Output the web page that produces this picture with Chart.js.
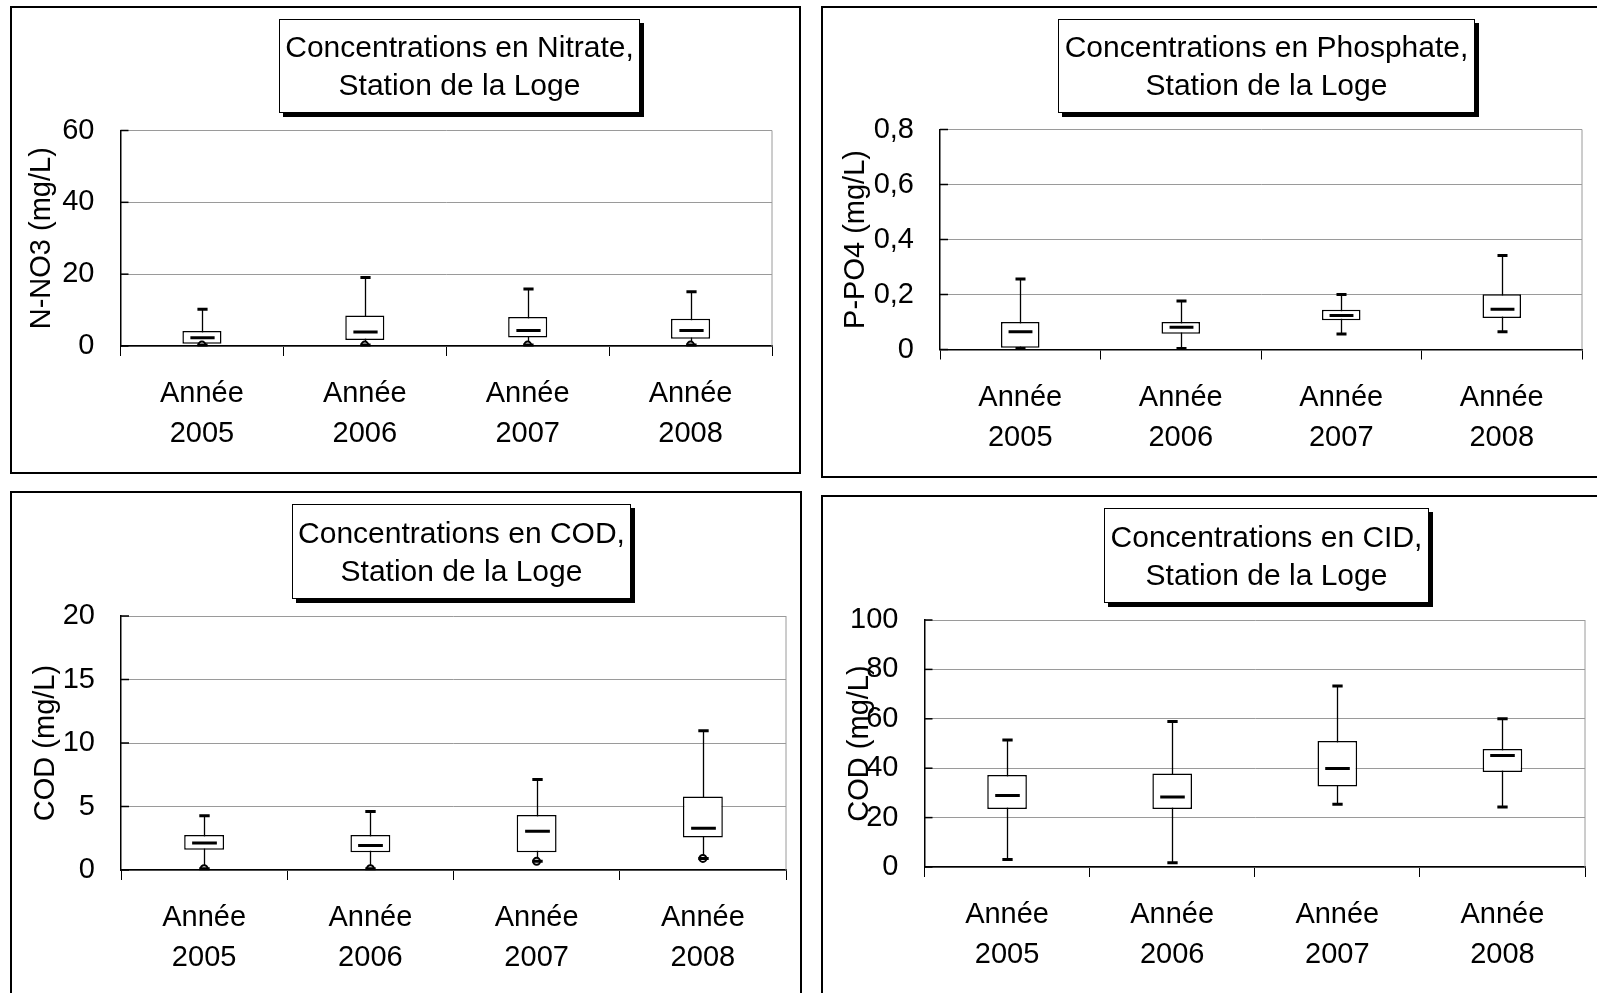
<!DOCTYPE html>
<html>
<head>
<meta charset="utf-8">
<script src="https://cdn.jsdelivr.net/npm/chart.js@4.4.0/dist/chart.umd.min.js"></script>
<style>
body { margin: 0; background: #fff; width: 1597px; height: 993px; overflow: hidden; position: relative; font-family: "Liberation Sans", Arial, sans-serif; }
.panel { position: absolute; border: 2px solid #000; box-sizing: border-box; background: #fff; }
.panel canvas { position: absolute; left: 0; top: 0; }
.ttl { position: absolute; border: 1px solid #000; background: #fff; box-shadow: 4px 4px 0 #000; box-sizing: border-box;
  text-align: center; font-size: 30px; line-height: 38px; color: #000;
  display: flex; flex-direction: column; justify-content: center; align-items: center; white-space: nowrap; }
</style>
</head>
<body>
<div class="panel" style="left:10px;top:6px;width:791px;height:468px"><canvas id="c1"></canvas></div>
<div class="panel" style="left:821px;top:6px;width:800px;height:472px"><canvas id="c2"></canvas></div>
<div class="panel" style="left:10px;top:491px;width:792px;height:520px"><canvas id="c3"></canvas></div>
<div class="panel" style="left:821px;top:495px;width:800px;height:520px"><canvas id="c4"></canvas></div>

<div class="ttl" style="left:279px;top:19px;width:361px;height:94px"><div>Concentrations en Nitrate,</div><div>Station de la Loge</div></div>
<div class="ttl" style="left:1058px;top:19px;width:417px;height:94px"><div>Concentrations en Phosphate,</div><div>Station de la Loge</div></div>
<div class="ttl" style="left:292px;top:504px;width:339px;height:95px"><div>Concentrations en COD,</div><div>Station de la Loge</div></div>
<div class="ttl" style="left:1104px;top:508px;width:325px;height:95px"><div>Concentrations en CID,</div><div>Station de la Loge</div></div>

<script>
const years = [["Année", "2005"], ["Année", "2006"], ["Année", "2007"], ["Année", "2008"]];

// N-NO3
const no3Min = [0.25, 0.25, 0.25, 0.25];
const no3Q1 = [0.6, 1.7, 2.4, 2.0];
const no3Median = [2.3, 3.9, 4.3, 4.3];
const no3Q3 = [4.2, 8.5, 8.1, 7.6];
const no3Max = [10.2, 19.1, 15.9, 15.1];
const no3Outliers = [0.25, 0.25, 0.25, 0.25];
const no3Ticks = ["0", "20", "40", "60"];

// P-PO4
const po4Min = [0.004, 0.004, 0.056, 0.065];
const po4Q1 = [0.006, 0.057, 0.106, 0.115];
const po4Median = [0.065, 0.081, 0.124, 0.146];
const po4Q3 = [0.1, 0.1, 0.145, 0.201];
const po4Max = [0.256, 0.176, 0.2, 0.342];
const po4Ticks = ["0", "0,2", "0,4", "0,6", "0,8"];

// COD
const codMin = [0.1, 0.1, 0.68, 0.91];
const codQ1 = [1.6, 1.4, 1.4, 2.55];
const codMedian = [2.13, 1.92, 3.05, 3.29];
const codQ3 = [2.76, 2.76, 4.34, 5.78];
const codMax = [4.28, 4.6, 7.12, 10.96];
const codOutliers = [0.1, 0.1, 0.68, 0.91];
const codTicks = ["0", "5", "10", "15", "20"];

// CID
const cidMin = [3.0, 1.7, 25.4, 24.3];
const cidQ1 = [23.5, 23.5, 32.6, 38.5];
const cidMedian = [28.9, 28.3, 39.9, 45.1];
const cidQ3 = [37.2, 37.9, 51.0, 47.8];
const cidMax = [51.4, 58.9, 73.3, 60.0];
const cidTicks = ["0", "20", "40", "60", "80", "100"];

const FONT = "'Liberation Sans', Arial, sans-serif";

// whiskers, caps, medians, inner y ticks and right border
function boxPlugin(lo, med, hi) {
  return {
    id: 'boxes',
    beforeDatasetsDraw(chart) {
      const ctx = chart.ctx, area = chart.chartArea;
      const xs = chart.scales.x, ys = chart.scales.y;
      ctx.save();
      ctx.strokeStyle = '#9a9a9a';
      ctx.lineWidth = 1;
      ctx.beginPath();
      ctx.moveTo(area.right, area.top);
      ctx.lineTo(area.right, area.bottom);
      ctx.stroke();

      ctx.strokeStyle = '#000';
      ctx.lineWidth = 1.5;
      ys.ticks.forEach(t => {
        const py = ys.getPixelForValue(t.value);
        ctx.beginPath();
        ctx.moveTo(area.left, py);
        ctx.lineTo(area.left + 8, py);
        ctx.stroke();
      });

      ctx.lineWidth = 1.3;
      for (let i = 0; i < lo.length; i++) {
        const px = Math.round(xs.getPixelForValue(i)) + 0.5;
        ctx.beginPath();
        ctx.moveTo(px, ys.getPixelForValue(lo[i]));
        ctx.lineTo(px, ys.getPixelForValue(hi[i]));
        ctx.stroke();
      }
      ctx.restore();
    },
    afterDatasetsDraw(chart) {
      const ctx = chart.ctx;
      const xs = chart.scales.x, ys = chart.scales.y;
      const meta = chart.getDatasetMeta(chart.data.datasets.length - 1);
      ctx.save();
      ctx.strokeStyle = '#000';
      ctx.lineWidth = 3;
      for (let i = 0; i < med.length; i++) {
        const px = Math.round(xs.getPixelForValue(i)) + 0.5;
        const bw = meta.data[i].width;
        const capW = bw * 0.26;
        const w = bw * 0.62;
        const pLo = ys.getPixelForValue(lo[i]);
        const pHi = ys.getPixelForValue(hi[i]);
        const pMed = ys.getPixelForValue(med[i]);
        ctx.beginPath();
        ctx.moveTo(px - capW / 2, pHi);
        ctx.lineTo(px + capW / 2, pHi);
        ctx.moveTo(px - capW / 2, pLo);
        ctx.lineTo(px + capW / 2, pLo);
        ctx.moveTo(px - w / 2, pMed);
        ctx.lineTo(px + w / 2, pMed);
        ctx.stroke();
      }
      ctx.restore();
    }
  };
}

function drawBoxChart(id, size, area, opts) {
  const canvas = document.getElementById(id);
  canvas.width = size[0];
  canvas.height = size[1];
  canvas.style.width = size[0] + 'px';
  canvas.style.height = size[1] + 'px';

  const datasets = [];
  if (opts.outliers) {
    datasets.push({
      type: 'line',
      data: opts.outliers,
      showLine: false,
      pointRadius: 3.5,
      pointBackgroundColor: '#fff',
      pointBorderColor: '#000',
      pointBorderWidth: 2,
      order: 0
    });
  }
  datasets.push({
    type: 'bar',
    data: opts.q1.map((v, i) => [v, opts.q3[i]]),
    backgroundColor: '#fff',
    borderColor: '#000',
    borderWidth: 1.5,
    borderSkipped: false,
    barPercentage: 0.24,
    categoryPercentage: 1,
    order: 1
  });

  new Chart(canvas, {
    data: { labels: years, datasets: datasets },
    options: {
      responsive: false,
      animation: false,
      layout: { padding: { left: 0, top: area.top, right: area.right, bottom: 0 } },
      plugins: { legend: { display: false }, tooltip: { enabled: false } },
      scales: {
        x: {
          offset: true,
          grid: { offset: true, drawOnChartArea: false, drawTicks: true, tickLength: 10, color: '#000', lineWidth: 1 },
          border: { color: '#000', width: 1.5 },
          ticks: { color: '#000', font: { family: FONT, size: 29, lineHeight: 1.38 }, padding: 18, maxRotation: 0, autoSkip: false },
          afterFit: s => { s.height = area.xh; }
        },
        y: {
          min: 0,
          max: opts.max,
          ticks: {
            stepSize: opts.step,
            color: '#000',
            padding: 26,
            font: { family: FONT, size: 29 },
            callback: (v, i) => opts.ticks[i]
          },
          grid: { color: '#9a9a9a', lineWidth: 1, drawTicks: false },
          border: { color: '#000', width: 1.5 },
          title: { display: true, text: opts.title, color: '#000', font: { family: FONT, size: 29 }, padding: { top: area.tp, bottom: 0 } },
          afterFit: s => { s.width = area.yw; }
        }
      }
    },
    plugins: [boxPlugin(opts.min, opts.median, opts.max2)]
  });
}

drawBoxChart('c1', [787, 464], { top: 122.5, right: 27, xh: 126, yw: 108.5, tp: 13 },
  { q1: no3Q1, q3: no3Q3, min: no3Min, median: no3Median, max2: no3Max, outliers: no3Outliers,
    max: 60, step: 20, ticks: no3Ticks, title: 'N-NO3 (mg/L)' });

drawBoxChart('c2', [796, 468], { top: 121.5, right: 37, xh: 126.5, yw: 117, tp: 15.5 },
  { q1: po4Q1, q3: po4Q3, min: po4Min, median: po4Median, max2: po4Max, outliers: null,
    max: 0.8, step: 0.2, ticks: po4Ticks, title: 'P-PO4 (mg/L)' });

drawBoxChart('c3', [788, 516], { top: 123, right: 14, xh: 139, yw: 109, tp: 16.5 },
  { q1: codQ1, q3: codQ3, min: codMin, median: codMedian, max2: codMax, outliers: codOutliers,
    max: 20, step: 5, ticks: codTicks, title: 'COD (mg/L)' });

drawBoxChart('c4', [796, 516], { top: 123, right: 34, xh: 146, yw: 101.5, tp: 19.5 },
  { q1: cidQ1, q3: cidQ3, min: cidMin, median: cidMedian, max2: cidMax, outliers: null,
    max: 100, step: 20, ticks: cidTicks, title: 'COD (mg/L)' });
</script>
</body>
</html>
